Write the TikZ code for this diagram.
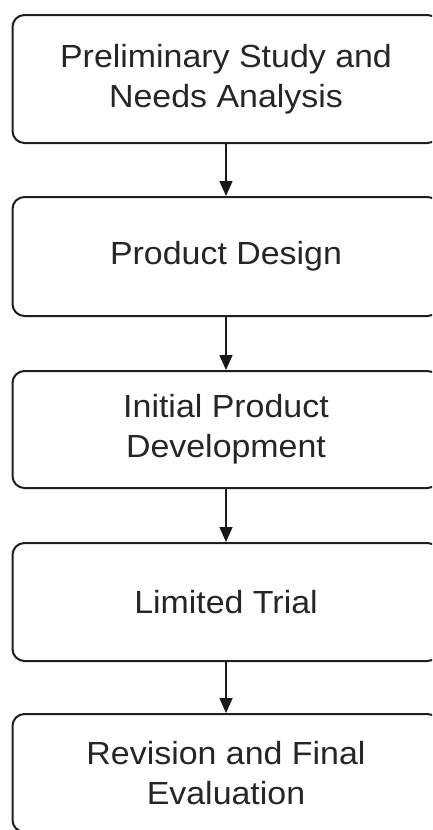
\documentclass[tikz,border=0pt]{standalone}
\usepackage{fontspec}
\setmainfont[FakeStretch=1.06]{Liberation Sans}
\usetikzlibrary{arrows.meta}
\tikzset{
  stage/.style={draw=black!88, line width=2pt, rounded corners=12pt,
    minimum width=427pt, align=center, inner sep=0pt,
    font=\fontsize{32}{40}\selectfont, text=black!85},
  flow/.style={draw=black!90, line width=1.6pt, -{Triangle[length=15pt,width=13pt]}}
}
\begin{document}
\begin{tikzpicture}[x=1pt,y=-1pt]
\useasboundingbox (0,0) rectangle (432,830);
\clip (0,0) rectangle (432,830);
\fill[white] (0,0) rectangle (432,830);
\node[stage, minimum height=128pt] (b1) at (226,79) {Preliminary Study and\\Needs Analysis};
\node[stage, minimum height=119pt] (b2) at (226,256.5) {Product Design};
\node[stage, minimum height=117pt] (b3) at (226,429.5) {Initial Product\\Development};
\node[stage, minimum height=118pt] (b4) at (226,602) {Limited Trial};
\node[stage, minimum height=118pt] (b5) at (226,773) {Revision and Final\\Evaluation};
\draw[flow] (b1) -- (b2);
\draw[flow] (b2) -- (b3);
\draw[flow] (b3) -- (b4);
\draw[flow] (b4) -- (b5);
\end{tikzpicture}
\end{document}
